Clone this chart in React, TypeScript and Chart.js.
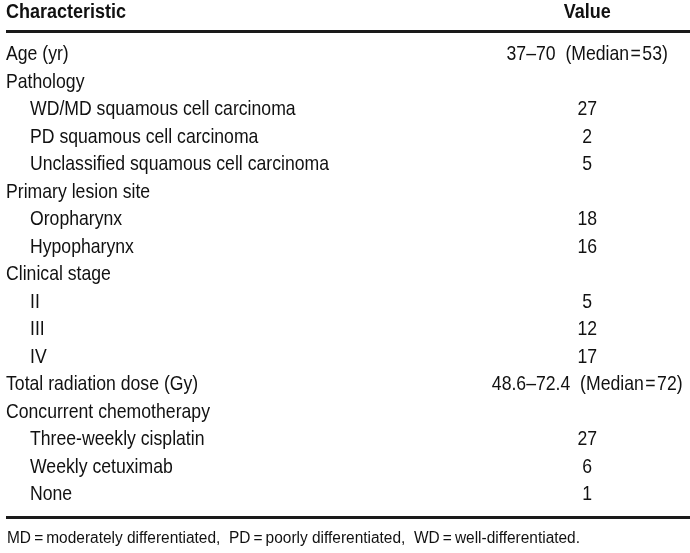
import React, { useEffect, useRef } from "react";
import { Chart, registerables } from "chart.js";

Chart.register(...registerables);

const headerLabels = ["Characteristic", "Value"];

const rowLabels = [
  "Age (yr)",
  "Pathology",
  "WD/MD squamous cell carcinoma",
  "PD squamous cell carcinoma",
  "Unclassified squamous cell carcinoma",
  "Primary lesion site",
  "Oropharynx",
  "Hypopharynx",
  "Clinical stage",
  "II",
  "III",
  "IV",
  "Total radiation dose (Gy)",
  "Concurrent chemotherapy",
  "Three-weekly cisplatin",
  "Weekly cetuximab",
  "None",
];

const rowLevels = [0, 0, 1, 1, 1, 0, 1, 1, 0, 1, 1, 1, 0, 0, 1, 1, 1];

const valueLabels = [
  "37\u201370  (Median\u200a=\u200a53)",
  "",
  "27",
  "2",
  "5",
  "",
  "18",
  "16",
  "",
  "5",
  "12",
  "17",
  "48.6\u201372.4  (Median\u200a=\u200a72)",
  "",
  "27",
  "6",
  "1",
];

const footnote =
  "MD\u2009=\u2009moderately differentiated,  PD\u2009=\u2009poorly differentiated,  WD\u2009=\u2009well-differentiated.";

const FONT = '"Liberation Sans", Arial, sans-serif';

function condensedText(ctx: CanvasRenderingContext2D, text: string, x: number, y: number, factor: number) {
  const w = ctx.measureText(text).width;
  ctx.fillText(text, x, y, w * factor);
}

const tablePlugin = {
  id: "tableText",
  afterDraw(chart: any) {
    const { ctx, chartArea, scales } = chart;
    const ys = scales.y;
    const left = chartArea.left;
    const W = chartArea.right - chartArea.left;
    const valueX = left + W * 0.851;
    const indentX = left + 30;
    const baseX = left + 6;
    ctx.save();
    ctx.fillStyle = "#111";
    ctx.textBaseline = "alphabetic";

    // header
    ctx.font = `bold 20px ${FONT}`;
    ctx.textAlign = "left";
    condensedText(ctx, headerLabels[0], baseX, 18, 0.9);
    ctx.textAlign = "center";
    condensedText(ctx, headerLabels[1], valueX, 18, 0.9);

    // rules
    ctx.fillStyle = "#1a1a1a";
    ctx.fillRect(baseX, 30, chartArea.right - baseX, 3);
    ctx.fillRect(baseX, 516, chartArea.right - baseX, 3);

    // rows
    ctx.fillStyle = "#111";
    ctx.font = `21px ${FONT}`;
    rowLabels.forEach((lab, i) => {
      const yc = ys.getPixelForValue(i);
      const by = yc + 7.5;
      ctx.textAlign = "left";
      condensedText(ctx, lab, rowLevels[i] ? indentX : baseX, by, 0.84);
      if (valueLabels[i]) {
        ctx.textAlign = "center";
        condensedText(ctx, valueLabels[i], valueX, by, 0.84);
      }
    });

    // footnote
    ctx.font = `16px ${FONT}`;
    ctx.textAlign = "left";
    const fw = ctx.measureText(footnote).width;
    ctx.fillText(footnote, baseX + 1, 543, Math.min(fw, 573));
    ctx.restore();
  },
};

export default function App() {
  const ref = useRef<HTMLCanvasElement | null>(null);
  useEffect(() => {
    if (!ref.current) return;
    const chart = new Chart(ref.current, {
      type: "bar",
      data: {
        labels: rowLabels,
        datasets: [
          {
            data: rowLabels.map(() => 0),
            backgroundColor: "rgba(0,0,0,0)",
          },
        ],
      },
      options: {
        indexAxis: "y",
        animation: false,
        responsive: false,
        devicePixelRatio: 1,
        layout: { padding: { top: 38.75, bottom: 46.75, left: 0, right: 0 } },
        plugins: { legend: { display: false }, tooltip: { enabled: false } },
        scales: {
          x: { display: false, min: 0, max: 1 },
          y: { display: false, offset: true },
        },
      },
      plugins: [tablePlugin],
    });
    return () => chart.destroy();
  }, []);
  return (
    <div style={{ position: "fixed", left: 0, top: 0, width: 690, height: 553, background: "#fff" }}>
      <canvas ref={ref} width={690} height={553} style={{ width: 690, height: 553 }} />
    </div>
  );
}
